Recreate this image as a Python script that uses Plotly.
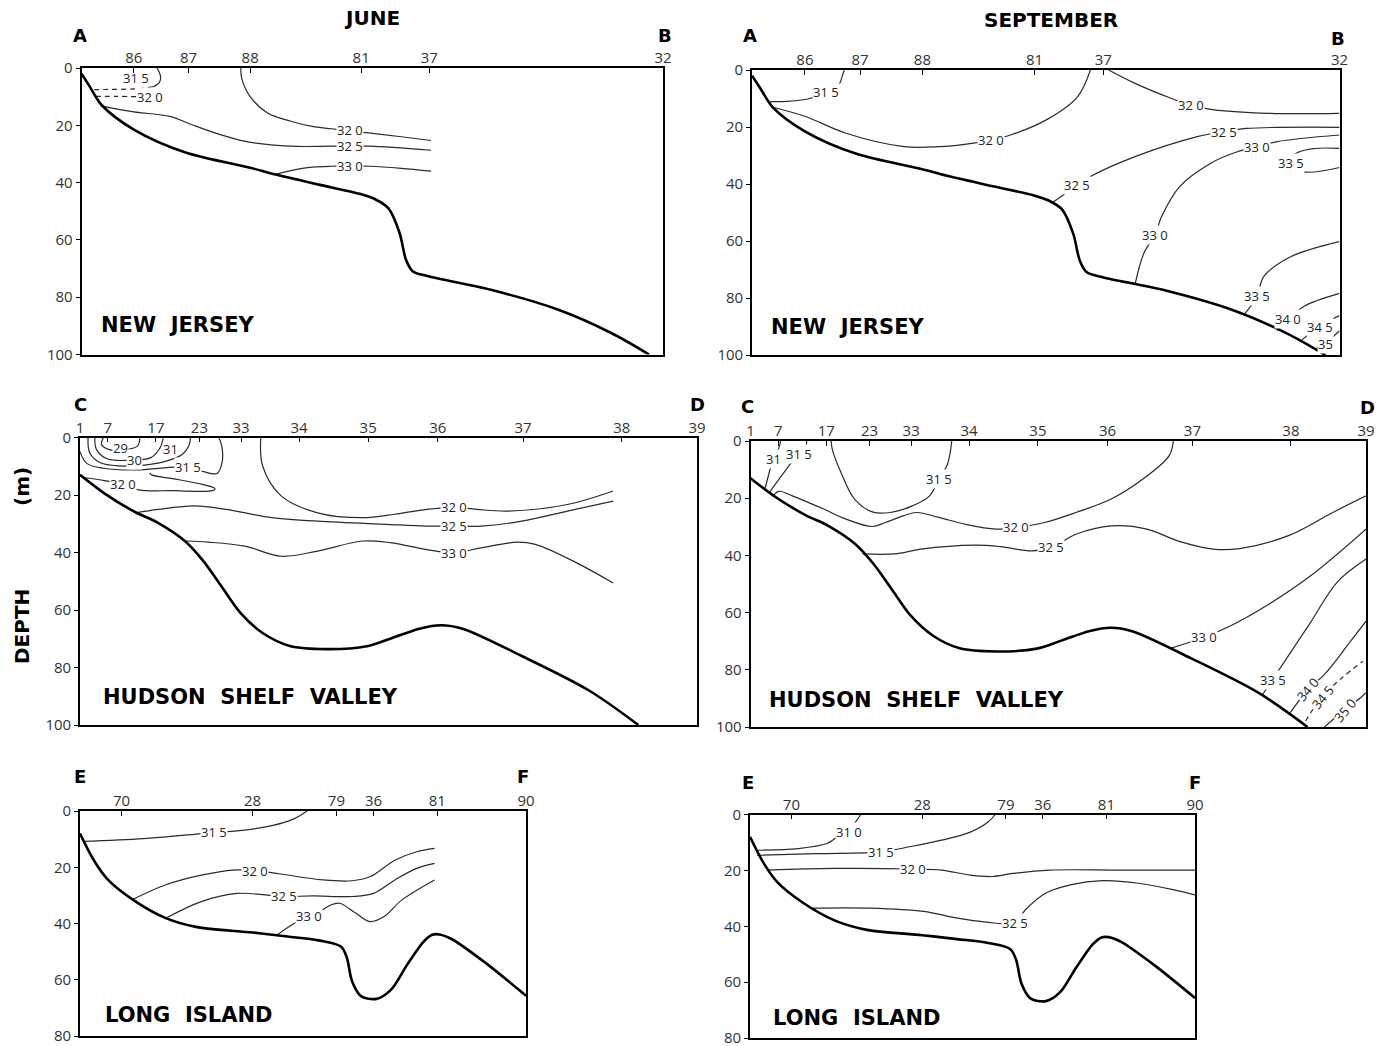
import plotly.graph_objects as go

W, H = 1386, 1046

# ---------------- stations (distance along section, % of section length) -------------
NJ_STATION_LABELS = ["86", "87", "88", "81", "37", "32"]
NJ_STATION_X = [9.0, 18.4, 29.0, 48.1, 59.8, 100]
HSV_STATION_LABELS = ["1", "7", "17", "23", "33", "34", "35", "36", "37", "38", "39"]
HSV_STATION_X = [0, 4.5, 12.3, 19.35, 26.1, 35.5, 46.7, 58.0, 71.8, 87.8, 100]
LI_STATION_LABELS = ["70", "28", "79", "36", "81", "90"]
LI_STATION_X = [9.3, 38.7, 57.5, 65.8, 80.1, 100]

DEPTH_TICKS_100 = [0, 20, 40, 60, 80, 100]
DEPTH_TICKS_80 = [0, 20, 40, 60, 80]

# ---------------- bottom profiles (depth, m) ----------------
NJ_BOTTOM_X = [0, 1.4, 3.5, 9, 17.9, 28.8, 33.6, 41, 48, 50.5, 52.8, 54.7, 55.8, 57.0, 59.7, 70.4, 81.9, 91.1, 97.6]
NJ_BOTTOM_Z = [2, 6.4, 13, 21.5, 29.5, 34.7, 37.3, 40.8, 44, 45.8, 49, 57.6, 66.9, 71, 72.7, 77.4, 84.3, 92.5, 100]
HSV_BOTTOM_X = [0, 4, 9, 12.5, 17, 20, 23, 26, 29.6, 34, 40, 46.5, 50.5, 55, 58.5, 62, 71.6, 82.5, 90.5]
HSV_BOTTOM_Z = [13, 19.5, 26, 29.5, 36, 43, 52, 61, 68, 72.5, 73.6, 72.6, 69.8, 66.5, 65.3, 66.5, 76, 88, 100]
LI_BOTTOM_X = [0, 3.1, 6.3, 11.9, 19.1, 26, 38.7, 46.5, 53.5, 58.5, 59.8, 61, 63, 66.5, 69.7, 73.3, 77, 79, 80.6, 83.4, 91, 100]
LI_BOTTOM_Z = [8, 17.5, 24.5, 31.6, 38, 41.2, 43.2, 44.6, 46, 48.2, 52, 60.5, 65.8, 66.8, 63.6, 54.8, 46.5, 44, 43.9, 45.6, 54.1, 65.7]

# ---------------- isohalines: (x list, depth list) ----------------
JUN_NJ_LINES = [
    ([13.0, 13.6, 13.4, 12.3], [0, 3, 5, 6.6]),                                   # 31.5
    ([27.4, 27.6, 29, 32, 36, 39.7, 43, 46.2, 50.4, 55, 60.1],
     [0, 4, 10, 15.7, 18.6, 20.4, 21.2, 22, 22.9, 24, 25.3]),                      # 32.0
    ([3.3, 9, 15.2, 19, 23.5, 28.2, 35.9, 43, 46.2, 49.6, 60.1],
     [13.2, 15.3, 16.9, 19.8, 23, 25.6, 27.3, 27.3, 27.3, 27.3, 28.7]),            # 32.5
    ([33.2, 36, 39.7, 43, 46.2, 49.6, 55, 60.1],
     [37.2, 35.8, 34.6, 34.3, 34.3, 34.3, 35, 36]),                                # 33.0
]
JUN_NJ_DASHED = [
    ([12.3, 9, 4, 1.8], [6.6, 7.3, 7.5, 7.6]),                                     # 31.5
    ([2.4, 6, 9.8], [9.9, 9.9, 10]),                                               # 32.0
]
JUN_NJ_LABELS = [("31 5", 9.3, 3.4, 0, False), ("32 0", 11.8, 10, 0, True),
                 ("32 0", 46.2, 21.8, 0, True), ("32 5", 46.2, 27.3, 0, True),
                 ("33 0", 46.2, 34.3, 0, True)]

SEP_NJ_LINES = [
    ([15.7, 15.3, 14.9, 12.6, 10, 6, 2.8], [0, 2.5, 4.7, 7.6, 9.9, 11, 11.1]),     # 31.5
    ([3.2, 9.2, 16, 25.9, 31.9, 36.5, 40.6, 44, 50.1, 55.4, 57.6],
     [12.9, 16.4, 22.2, 26.9, 26.9, 26, 24.6, 22.8, 17.5, 9.4, 0]),                # 32.0
    ([60.7, 65.2, 71.3, 74.7, 78.1, 87.9, 100], [0, 4.7, 9.9, 12.3, 13.8, 15.2, 15.2]),  # 32.0
    ([51.2, 55.4, 57.6, 65.2, 75.8, 80.3, 84.1, 100],
     [46.4, 40.4, 37.4, 30.4, 23.4, 21.6, 20.5, 20.1]),                            # 32.5
    ([65.2, 66.7, 68.6, 69.7, 72.8, 78.1, 82.6, 86, 89.4, 100],
     [75.2, 64.3, 57.9, 51.5, 40.9, 32.7, 28.7, 26.9, 25.1, 22.8]),                # 33.0
    ([100, 95.5, 92.4, 91.5, 93.9, 100], [27.5, 27.6, 29.5, 32.5, 35.7, 34.2]),    # 33.5
    ([83.7, 86, 87.1, 91.7, 100], [86, 79.3, 72.5, 65.5, 60.2]),                   # 33.5
    ([89.4, 91.3, 93.9, 100], [91.5, 87.7, 83, 78.4]),                             # 34.0
    ([93.6, 96.2, 98.5, 100], [94.7, 90.5, 87.7, 86.2]),                           # 34.5
    ([95.8, 97.5, 100], [98.0, 96.0, 91.5]),                                       # 35
]
SEP_NJ_LABELS = [("31 5", 12.6, 7.6, 0, True), ("32 0", 40.6, 24.6, 0, True),
                 ("32 0", 74.7, 12.3, 0, True), ("32 5", 55.4, 40.4, 0, True),
                 ("32 5", 80.3, 21.6, 0, True), ("33 0", 68.6, 57.9, 0, True),
                 ("33 0", 86, 26.9, 0, True), ("33 5", 91.8, 32.8, 0, True),
                 ("33 5", 86, 79.3, 0, True), ("34 0", 91.3, 87.3, 0, True),
                 ("34 5", 96.6, 90.2, 0, True), ("35", 97.6, 96.3, 0, True)]

JUN_HSV_LINES = [
    ([3.8, 3.5, 4.9, 6.5, 9.3, 9.7], [0, 2.5, 4.3, 4.4, 3, 0]),                    # 29
    ([2.4, 2.7, 4.5, 8.9, 11.5, 13, 13.5], [0, 4.3, 7.5, 7.8, 7, 3.5, 0]),         # 30
    ([1.3, 1.6, 3.3, 6.5, 10.5, 13.5, 16.5, 17.7, 17.9],
     [0, 5.5, 8.8, 9.9, 9.6, 8.5, 6, 2.5, 0]),                                     # 31
    ([0, 1.1, 3.8, 9.2, 14, 17.5, 20, 22.2, 23, 23, 22.5],
     [4.9, 9, 10.7, 11.3, 10.5, 10.2, 11.9, 12.5, 9, 3.2, 0]),                     # 31.5
    ([0.8, 4, 7, 9.5, 15, 21.5, 21.9, 20, 15, 11.6, 11.3],
     [14, 15, 16.3, 18.2, 18.5, 18.5, 17.8, 16.4, 14.3, 13.0, 12.3]),              # 32.0
    ([29.3, 29.6, 32.6, 38.5, 45.8, 51, 56.2, 60.6, 64.3, 69.4, 79, 86.4],
     [0, 9.9, 20.3, 26.2, 27.9, 26.7, 25, 24.3, 25, 25.6, 23.3, 18.6]),            # 32.0
    ([9, 12.7, 18.6, 23.7, 31.1, 38.5, 49.5, 56.2, 60.6, 65, 71.6, 79, 86.4],
     [26.2, 25, 23.8, 25, 27.9, 29.1, 30.2, 30.8, 30.8, 30.8, 29.1, 25.6, 22.1]),  # 32.5
    ([17.1, 20.8, 26.7, 32.6, 38.5, 45.8, 50.3, 56.2, 60.6, 65, 70.9, 73.8, 80.5, 86.4],
     [36, 36.4, 37.8, 41.3, 39.5, 36, 36.6, 39, 40.1, 38.4, 36.4, 37.2, 43.6, 50.6]),  # 33.0
]
JUN_HSV_LABELS = [("29", 6.6, 3.6, 0, True), ("30", 8.9, 7.8, 0, True),
                  ("31", 14.6, 4.1, 0, False), ("31 5", 17.5, 10.2, 0, True),
                  ("32 0", 7.0, 16.3, 0, True), ("32 0", 60.6, 24.3, 0, True),
                  ("32 5", 60.6, 30.8, 0, True), ("33 0", 60.6, 40.1, 0, True)]

SEP_HSV_LINES = [
    ([4.9, 4.6, 3.7, 3.3, 2.3], [0, 2.5, 6.2, 9, 17.2]),                           # 31
    ([9.1, 9.0, 7.8, 6.7, 3.0], [0, 2, 4.5, 7.4, 18.2]),                           # 31.5
    ([13.1, 13.3, 14.7, 16.9, 19.8, 22.7, 26.3, 29.1, 30.6, 32, 32.7],
     [0, 3, 11, 20.3, 24.8, 25, 22.7, 19.2, 13.4, 8.1, 0]),                        # 31.5
    ([3.6, 4.6, 6.8, 11.9, 15.5, 19.8, 21.9, 24.8, 27, 30.6, 34.9, 39.9, 43.2, 47.8, 52.9, 58.6, 63.7, 68, 68.7],
     [19.5, 17.6, 19.2, 23.8, 27.3, 29.9, 28.5, 26.2, 25, 26.7, 29.1, 30.8, 30.2, 28.5, 25, 20.3, 13.4, 5.2, 0]),  # 32.0
    ([18.2, 23.4, 27.7, 36.3, 40.6, 45.7, 48.9, 52.9, 58.6, 64.4, 69.4, 75.2, 79.5, 87.4, 94.6, 100],
     [39.5, 39.5, 37.8, 36.4, 36.9, 38.4, 37.2, 32.6, 29.7, 30.8, 34.9, 37.8, 37.6, 33.1, 25, 19.2]),  # 32.5
    ([68.2, 73.7, 78.1, 83.8, 91, 100], [72.5, 68.6, 64.5, 57.6, 47.1, 30.8]),     # 33.0
    ([83.1, 84.9, 86.7, 91, 95.3, 100], [89, 83.1, 77.3, 63.4, 49.4, 41.3]),       # 33.5
    ([87.7, 88.7, 90.6, 93.3, 97.5, 100], [95, 92, 86.8, 81.5, 70, 63]),           # 34.0
    ([93, 96.6, 99.3, 100], [100.5, 93.8, 89.4, 88]),                              # 35.0
]
SEP_HSV_DASHED = [
    ([90.2, 91.2, 93, 96, 99.5], [97.9, 94.4, 89.1, 83, 77]),                      # 34.5
]
SEP_HSV_LABELS = [("31", 3.7, 6.2, 0, True), ("31 5", 7.8, 4.5, 0, True),
                  ("31 5", 30.6, 13.4, 0, True), ("32 0", 43.2, 30.2, 0, True),
                  ("32 5", 48.9, 37.2, 0, True), ("33 0", 73.7, 68.6, 0, True),
                  ("33 5", 84.9, 83.5, 0, True), ("34 0", 90.6, 86.8, -50, True),
                  ("34 5", 93.0, 89.6, -50, True), ("35 0", 96.6, 94.0, -50, True)]

JUN_LI_LINES = [
    ([0.6, 14.3, 25.6, 30, 35.2, 43.3, 48.1, 50.9], [10.8, 9.8, 8.3, 7.6, 7.1, 5.1, 2.7, 0]),  # 31.5
    ([11.9, 19.1, 27.2, 34.4, 39.3, 44.9, 54.5, 61, 65, 70.6, 75.5, 79.5],
     [31.4, 26.3, 22.8, 21, 21.2, 22.4, 24.5, 24.8, 23.4, 17.5, 14.5, 13.3]),      # 32.0
    ([19.5, 27.2, 35.2, 45.7, 52.1, 61, 65.8, 70.6, 75.5, 79.5],
     [37.9, 32.2, 29.3, 30.4, 30.2, 30.4, 29.3, 24.5, 20.4, 18.6]),                # 32.5
    ([44.1, 48, 51.3, 54, 56.2, 58.2, 61.8, 65, 68.2, 72.2, 79.5],
     [44.2, 40, 37.5, 35.5, 33.4, 32.8, 36.3, 39.3, 37.5, 31.6, 24.5]),            # 33.0
]
JUN_LI_LABELS = [("31 5", 30, 7.5, 0, True), ("32 0", 39.3, 21.3, 0, True),
                 ("32 5", 45.7, 30.3, 0, True), ("33 0", 51.3, 37.5, 0, True)]

SEP_LI_LINES = [
    ([1.3, 10.9, 17.3, 19.7, 22.1, 23.7, 24.9], [12.8, 12.2, 10.4, 8, 6.3, 2.7, 0]),   # 31.0
    ([1.6, 14.9, 29.4, 35, 43, 49.5, 53.5, 55.1], [14.6, 14, 13.4, 11.8, 9.2, 6.3, 2.7, 0]),  # 31.5
    ([4, 18.9, 36.6, 43, 49.5, 54.3, 59.1, 67.2, 83.3, 100],
     [19.9, 19.3, 19.5, 19.9, 21.7, 22.2, 21.1, 19.9, 19.9, 19.9]),                # 32.0
    ([14.1, 27, 39, 46.3, 53, 59.5, 61.9, 66.4, 72, 79.2, 87.3, 95.3, 100],
     [33.5, 33.5, 34.7, 37, 38.5, 38.8, 34.1, 28.2, 25.2, 23.7, 24.6, 27, 28.8]),  # 32.5
]
SEP_LI_LABELS = [("31 0", 22.3, 6.3, 0, True), ("31 5", 29.4, 13.4, 0, True),
                 ("32 0", 36.6, 19.5, 0, True), ("32 5", 59.5, 38.8, 0, True)]

# ---------------- layout helpers ----------------
FONT = "Open Sans, DejaVu Sans, sans-serif"
BOLD_FONT = "DejaVu Sans, Open Sans, sans-serif"
LINE_COLOR = "#2a2a2a"

fig = go.Figure()
annotations = []


def px_x(v):
    return v / W


def px_y(v):
    return 1 - v / H


def add_panel(n, box, stx, stl, ymax, yticks, bx, bz, lines, dashed, labels):
    left, right, top, bottom = box
    xa = "x" if n == 1 else f"x{n}"
    ya = "y" if n == 1 else f"y{n}"
    for xs, zs in lines:
        fig.add_trace(go.Scatter(x=xs, y=zs, mode="lines", xaxis=xa, yaxis=ya,
                                 line=dict(color=LINE_COLOR, width=1.2, shape="spline", smoothing=1.0),
                                 hoverinfo="skip", showlegend=False))
    for xs, zs in dashed:
        fig.add_trace(go.Scatter(x=xs, y=zs, mode="lines", xaxis=xa, yaxis=ya,
                                 line=dict(color=LINE_COLOR, width=1.2, dash="5px,4px",
                                           shape="spline", smoothing=1.0),
                                 hoverinfo="skip", showlegend=False))
    fig.add_trace(go.Scatter(x=bx, y=bz, mode="lines", xaxis=xa, yaxis=ya,
                             line=dict(color="black", width=2.6, shape="spline", smoothing=0.9),
                             hoverinfo="skip", showlegend=False))
    for text, lx, lz, ang, bg in labels:
        annotations.append(dict(x=lx, y=lz, xref=xa, yref=ya, text=text, showarrow=False,
                                textangle=ang, font=dict(family=FONT, size=13, color="#222"),
                                bgcolor="white" if bg else "rgba(0,0,0,0)", borderpad=0))
    key_x = "xaxis" if n == 1 else f"xaxis{n}"
    key_y = "yaxis" if n == 1 else f"yaxis{n}"
    fig.update_layout(**{
        key_x: dict(domain=[px_x(left), px_x(right)], range=[0, 100], anchor=ya, side="top",
                    tickmode="array", tickvals=stx, ticktext=stl, ticks="inside", ticklen=5,
                    tickcolor="black", showline=True, linecolor="black", linewidth=1.6,
                    mirror=True, showgrid=False, zeroline=False, automargin=False,
                    ticklabelstandoff=-3, ticklabeloverflow="allow",
                    tickfont=dict(family=FONT, size=15, color="#333")),
        key_y: dict(domain=[px_y(bottom), px_y(top)], range=[ymax, 0], anchor=xa,
                    tickmode="array", tickvals=yticks, ticktext=[str(t) for t in yticks],
                    ticks="outside", ticklen=4, tickcolor="black", showline=True,
                    linecolor="black", linewidth=1.6, mirror=True, showgrid=False,
                    zeroline=False, automargin=False, ticklabeloverflow="allow",
                    tickfont=dict(family=FONT, size=15, color="#333")),
    })


add_panel(1, (81.5, 663, 68, 354.5), NJ_STATION_X, NJ_STATION_LABELS, 100, DEPTH_TICKS_100,
          NJ_BOTTOM_X, NJ_BOTTOM_Z, JUN_NJ_LINES, JUN_NJ_DASHED, JUN_NJ_LABELS)
add_panel(2, (752, 1339.5, 70, 355), NJ_STATION_X, NJ_STATION_LABELS, 100, DEPTH_TICKS_100,
          NJ_BOTTOM_X, NJ_BOTTOM_Z, SEP_NJ_LINES, [], SEP_NJ_LABELS)
add_panel(3, (80, 697, 437.5, 725), HSV_STATION_X, HSV_STATION_LABELS, 100, DEPTH_TICKS_100,
          HSV_BOTTOM_X, HSV_BOTTOM_Z, JUN_HSV_LINES, [], JUN_HSV_LABELS)
add_panel(4, (750.5, 1366, 441, 727), HSV_STATION_X, HSV_STATION_LABELS, 100, DEPTH_TICKS_100,
          HSV_BOTTOM_X, HSV_BOTTOM_Z, SEP_HSV_LINES, SEP_HSV_DASHED, SEP_HSV_LABELS)
add_panel(5, (80, 526, 811, 1036), LI_STATION_X, LI_STATION_LABELS, 80, DEPTH_TICKS_80,
          LI_BOTTOM_X, LI_BOTTOM_Z, JUN_LI_LINES, [], JUN_LI_LABELS)
add_panel(6, (750, 1195, 814.5, 1038), LI_STATION_X, LI_STATION_LABELS, 80, DEPTH_TICKS_80,
          LI_BOTTOM_X, LI_BOTTOM_Z, SEP_LI_LINES, [], SEP_LI_LABELS)


def paper_text(text, x, y, size, angle=0, bold=True):
    annotations.append(dict(x=px_x(x), y=px_y(y), xref="paper", yref="paper",
                            text=f"<b>{text}</b>" if bold else text, showarrow=False,
                            textangle=angle, xanchor="center", yanchor="middle",
                            font=dict(family=BOLD_FONT, size=size, color="black")))


NB = "\u00a0"
paper_text("JUNE", 372, 18, 20)
paper_text("SEPTEMBER", 1051, 20, 20)
for t, x, y in [("A", 80, 35), ("B", 665, 35), ("A", 750, 35), ("B", 1338, 38),
                ("C", 80, 404), ("D", 697, 404), ("C", 747, 406), ("D", 1367, 407),
                ("E", 80, 776), ("F", 523, 776), ("E", 748, 782), ("F", 1195, 782)]:
    paper_text(t, x, y, 18)
paper_text(f"NEW{NB}{NB}JERSEY", 178, 325, 21)
paper_text(f"NEW{NB}{NB}JERSEY", 848, 327, 21)
paper_text(f"HUDSON{NB}{NB}SHELF{NB}{NB}VALLEY", 250, 697, 21)
paper_text(f"HUDSON{NB}{NB}SHELF{NB}{NB}VALLEY", 916, 700, 21)
paper_text(f"LONG{NB}{NB}ISLAND", 189, 1015, 21)
paper_text(f"LONG{NB}{NB}ISLAND", 857, 1018, 21)
paper_text("DEPTH", 22, 627, 20, angle=-90)
paper_text("(m)", 22, 487, 20, angle=-90)

fig.update_layout(width=W, height=H, margin=dict(l=0, r=0, t=0, b=0, pad=0, autoexpand=False),
                  paper_bgcolor="white", plot_bgcolor="white",
                  annotations=annotations, showlegend=False)

fig.write_html("out.html")
